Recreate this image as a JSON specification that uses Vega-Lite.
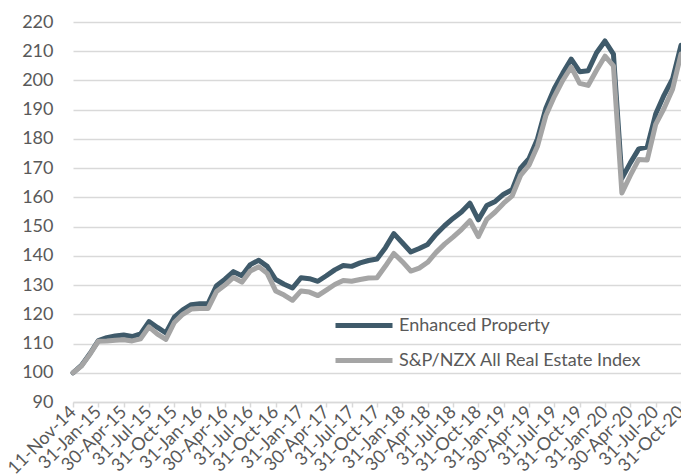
{
  "$schema": "https://vega.github.io/schema/vega-lite/v6.json",
  "width": 608,
  "height": 380,
  "autosize": "none",
  "padding": {"left": 73, "top": 22, "right": 0, "bottom": 73},
  "background": "white",
  "config": {"view": {"stroke": null}},
  "data": {"values": [
    {"Date": "11-Nov-14", "Enhanced Property": 100, "S&P/NZX All Real Estate Index": 100},
    {"Date": "30-Nov-14", "Enhanced Property": 102.5, "S&P/NZX All Real Estate Index": 102.3},
    {"Date": "31-Dec-14", "Enhanced Property": 106.5, "S&P/NZX All Real Estate Index": 106.3},
    {"Date": "31-Jan-15", "Enhanced Property": 111, "S&P/NZX All Real Estate Index": 110.8},
    {"Date": "28-Feb-15", "Enhanced Property": 112, "S&P/NZX All Real Estate Index": 110.9},
    {"Date": "31-Mar-15", "Enhanced Property": 112.6, "S&P/NZX All Real Estate Index": 111.1},
    {"Date": "30-Apr-15", "Enhanced Property": 112.9, "S&P/NZX All Real Estate Index": 111.3},
    {"Date": "31-May-15", "Enhanced Property": 112.4, "S&P/NZX All Real Estate Index": 110.9},
    {"Date": "30-Jun-15", "Enhanced Property": 113.3, "S&P/NZX All Real Estate Index": 111.6},
    {"Date": "31-Jul-15", "Enhanced Property": 117.5, "S&P/NZX All Real Estate Index": 115.7},
    {"Date": "31-Aug-15", "Enhanced Property": 115.5, "S&P/NZX All Real Estate Index": 113.2},
    {"Date": "30-Sep-15", "Enhanced Property": 113.6, "S&P/NZX All Real Estate Index": 111.4},
    {"Date": "31-Oct-15", "Enhanced Property": 119, "S&P/NZX All Real Estate Index": 117.2},
    {"Date": "30-Nov-15", "Enhanced Property": 121.5, "S&P/NZX All Real Estate Index": 120},
    {"Date": "31-Dec-15", "Enhanced Property": 123.3, "S&P/NZX All Real Estate Index": 121.8},
    {"Date": "31-Jan-16", "Enhanced Property": 123.6, "S&P/NZX All Real Estate Index": 122},
    {"Date": "29-Feb-16", "Enhanced Property": 123.7, "S&P/NZX All Real Estate Index": 122},
    {"Date": "31-Mar-16", "Enhanced Property": 129.8, "S&P/NZX All Real Estate Index": 127.8},
    {"Date": "30-Apr-16", "Enhanced Property": 132, "S&P/NZX All Real Estate Index": 130},
    {"Date": "31-May-16", "Enhanced Property": 134.6, "S&P/NZX All Real Estate Index": 132.6},
    {"Date": "30-Jun-16", "Enhanced Property": 133.2, "S&P/NZX All Real Estate Index": 131},
    {"Date": "31-Jul-16", "Enhanced Property": 137, "S&P/NZX All Real Estate Index": 134.8},
    {"Date": "31-Aug-16", "Enhanced Property": 138.5, "S&P/NZX All Real Estate Index": 136.3},
    {"Date": "30-Sep-16", "Enhanced Property": 136.4, "S&P/NZX All Real Estate Index": 134},
    {"Date": "31-Oct-16", "Enhanced Property": 131.9, "S&P/NZX All Real Estate Index": 128},
    {"Date": "30-Nov-16", "Enhanced Property": 130.3, "S&P/NZX All Real Estate Index": 126.6},
    {"Date": "31-Dec-16", "Enhanced Property": 129, "S&P/NZX All Real Estate Index": 124.8},
    {"Date": "31-Jan-17", "Enhanced Property": 132.5, "S&P/NZX All Real Estate Index": 128},
    {"Date": "28-Feb-17", "Enhanced Property": 132.2, "S&P/NZX All Real Estate Index": 127.6},
    {"Date": "31-Mar-17", "Enhanced Property": 131.3, "S&P/NZX All Real Estate Index": 126.4},
    {"Date": "30-Apr-17", "Enhanced Property": 133.2, "S&P/NZX All Real Estate Index": 128.3},
    {"Date": "31-May-17", "Enhanced Property": 135.2, "S&P/NZX All Real Estate Index": 130.2},
    {"Date": "30-Jun-17", "Enhanced Property": 136.7, "S&P/NZX All Real Estate Index": 131.6},
    {"Date": "31-Jul-17", "Enhanced Property": 136.4, "S&P/NZX All Real Estate Index": 131.3},
    {"Date": "31-Aug-17", "Enhanced Property": 137.6, "S&P/NZX All Real Estate Index": 131.9},
    {"Date": "30-Sep-17", "Enhanced Property": 138.4, "S&P/NZX All Real Estate Index": 132.4},
    {"Date": "31-Oct-17", "Enhanced Property": 138.9, "S&P/NZX All Real Estate Index": 132.5},
    {"Date": "30-Nov-17", "Enhanced Property": 142.8, "S&P/NZX All Real Estate Index": 136.5},
    {"Date": "31-Dec-17", "Enhanced Property": 147.6, "S&P/NZX All Real Estate Index": 140.8},
    {"Date": "31-Jan-18", "Enhanced Property": 144.5, "S&P/NZX All Real Estate Index": 138},
    {"Date": "28-Feb-18", "Enhanced Property": 141.3, "S&P/NZX All Real Estate Index": 134.8},
    {"Date": "31-Mar-18", "Enhanced Property": 142.5, "S&P/NZX All Real Estate Index": 135.8},
    {"Date": "30-Apr-18", "Enhanced Property": 143.9, "S&P/NZX All Real Estate Index": 137.8},
    {"Date": "31-May-18", "Enhanced Property": 147.4, "S&P/NZX All Real Estate Index": 141.2},
    {"Date": "30-Jun-18", "Enhanced Property": 150.3, "S&P/NZX All Real Estate Index": 144},
    {"Date": "31-Jul-18", "Enhanced Property": 152.8, "S&P/NZX All Real Estate Index": 146.4},
    {"Date": "31-Aug-18", "Enhanced Property": 155, "S&P/NZX All Real Estate Index": 149},
    {"Date": "30-Sep-18", "Enhanced Property": 158, "S&P/NZX All Real Estate Index": 152},
    {"Date": "31-Oct-18", "Enhanced Property": 152.3, "S&P/NZX All Real Estate Index": 146.6},
    {"Date": "30-Nov-18", "Enhanced Property": 157.2, "S&P/NZX All Real Estate Index": 152.5},
    {"Date": "31-Dec-18", "Enhanced Property": 158.6, "S&P/NZX All Real Estate Index": 155},
    {"Date": "31-Jan-19", "Enhanced Property": 161.1, "S&P/NZX All Real Estate Index": 158},
    {"Date": "28-Feb-19", "Enhanced Property": 162.6, "S&P/NZX All Real Estate Index": 160.5},
    {"Date": "31-Mar-19", "Enhanced Property": 170, "S&P/NZX All Real Estate Index": 167.5},
    {"Date": "30-Apr-19", "Enhanced Property": 173.2, "S&P/NZX All Real Estate Index": 171},
    {"Date": "31-May-19", "Enhanced Property": 180, "S&P/NZX All Real Estate Index": 177.5},
    {"Date": "30-Jun-19", "Enhanced Property": 190.5, "S&P/NZX All Real Estate Index": 188},
    {"Date": "31-Jul-19", "Enhanced Property": 197.3, "S&P/NZX All Real Estate Index": 194.5},
    {"Date": "31-Aug-19", "Enhanced Property": 202.5, "S&P/NZX All Real Estate Index": 200},
    {"Date": "30-Sep-19", "Enhanced Property": 207.3, "S&P/NZX All Real Estate Index": 204.6},
    {"Date": "31-Oct-19", "Enhanced Property": 203, "S&P/NZX All Real Estate Index": 199},
    {"Date": "30-Nov-19", "Enhanced Property": 203.3, "S&P/NZX All Real Estate Index": 198.3},
    {"Date": "31-Dec-19", "Enhanced Property": 209.5, "S&P/NZX All Real Estate Index": 203.5},
    {"Date": "31-Jan-20", "Enhanced Property": 213.5, "S&P/NZX All Real Estate Index": 208.3},
    {"Date": "29-Feb-20", "Enhanced Property": 209, "S&P/NZX All Real Estate Index": 205},
    {"Date": "31-Mar-20", "Enhanced Property": 166.5, "S&P/NZX All Real Estate Index": 161.5},
    {"Date": "30-Apr-20", "Enhanced Property": 171.8, "S&P/NZX All Real Estate Index": 167.5},
    {"Date": "31-May-20", "Enhanced Property": 176.6, "S&P/NZX All Real Estate Index": 173},
    {"Date": "30-Jun-20", "Enhanced Property": 177.2, "S&P/NZX All Real Estate Index": 172.8},
    {"Date": "31-Jul-20", "Enhanced Property": 188.5, "S&P/NZX All Real Estate Index": 185},
    {"Date": "31-Aug-20", "Enhanced Property": 195, "S&P/NZX All Real Estate Index": 190.5},
    {"Date": "30-Sep-20", "Enhanced Property": 200.5, "S&P/NZX All Real Estate Index": 197},
    {"Date": "31-Oct-20", "Enhanced Property": 212, "S&P/NZX All Real Estate Index": 209}
  ]},
  "transform": [
    {"fold": ["Enhanced Property", "S&P/NZX All Real Estate Index"], "as": ["Series", "Value"]}
  ],
  "mark": {"type": "line", "strokeWidth": 5, "strokeJoin": "round", "strokeCap": "round", "clip": false},
  "encoding": {
    "x": {
      "field": "Date", "type": "ordinal", "sort": null,
      "scale": {"type": "point", "padding": 0},
      "axis": {
        "title": null,
        "values": ["11-Nov-14","31-Jan-15","30-Apr-15","31-Jul-15","31-Oct-15","31-Jan-16","30-Apr-16","31-Jul-16","31-Oct-16","31-Jan-17","30-Apr-17","31-Jul-17","31-Oct-17","31-Jan-18","30-Apr-18","31-Jul-18","31-Oct-18","31-Jan-19","30-Apr-19","31-Jul-19","31-Oct-19","31-Jan-20","30-Apr-20","31-Jul-20","31-Oct-20"],
        "labelAngle": -45, "labelAlign": "right", "labelBaseline": "middle",
        "labelFont": "Lato", "labelFontSize": 18, "labelColor": "#595959",
        "labelOverlap": false, "labelPadding": 2, "labelBound": false,
        "domainColor": "#D9D9D9", "domainWidth": 1.5,
        "tickColor": "#D9D9D9", "tickSize": 5, "tickWidth": 1.5,
        "grid": false
      }
    },
    "y": {
      "field": "Value", "type": "quantitative",
      "scale": {"domain": [90, 220], "nice": false, "zero": false},
      "axis": {
        "title": null,
        "values": [90,100,110,120,130,140,150,160,170,180,190,200,210,220],
        "domain": false, "ticks": false,
        "labelFont": "Lato", "labelFontSize": 18, "labelColor": "#595959",
        "labelPadding": 20,
        "gridColor": "#D9D9D9", "gridWidth": 1.5
      }
    },
    "color": {
      "field": "Series", "type": "nominal",
      "scale": {"domain": ["Enhanced Property", "S&P/NZX All Real Estate Index"], "range": ["#3F5A6A", "#A5A5A5"]},
      "legend": {
        "title": null, "orient": "none", "legendX": 260, "legendY": 286,
        "symbolType": "stroke", "symbolSize": 3249, "symbolStrokeWidth": 5,
        "labelFont": "Lato", "labelFontSize": 18, "labelColor": "#595959",
        "labelOffset": 4, "rowPadding": 0, "clipHeight": 35, "labelLimit": 400
      }
    }
  }
}
